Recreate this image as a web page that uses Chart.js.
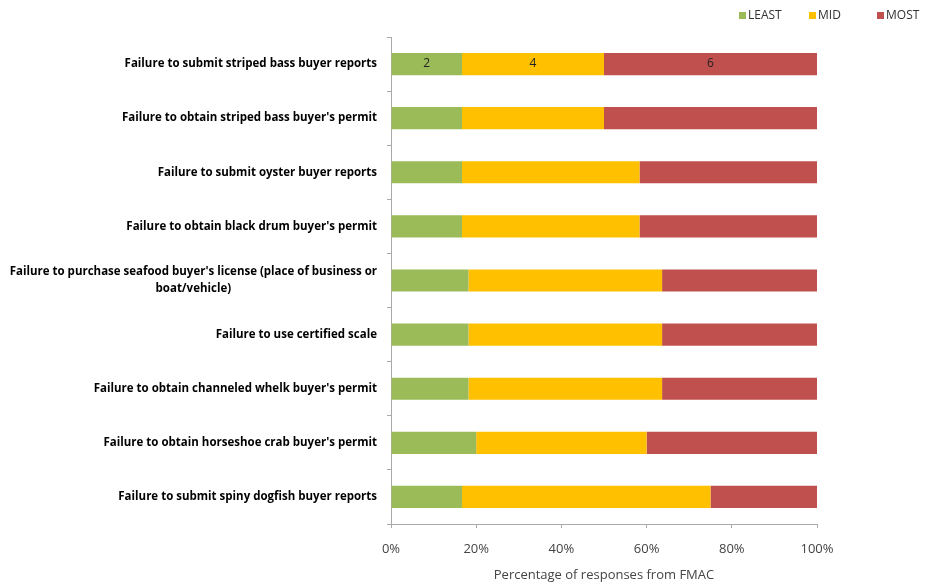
<!DOCTYPE html>
<html><head><meta charset="utf-8">
<script src="https://cdn.jsdelivr.net/npm/chart.js@4"></script>
<style>html,body{margin:0;padding:0;background:#fff}#wrap{width:925px;height:584px;position:relative}</style>
</head><body><div id="wrap"><canvas id="c" width="925" height="584"></canvas></div>
<script>
const categories = [
  ["Failure to submit striped bass buyer reports"],
  ["Failure to obtain striped bass buyer's permit"],
  ["Failure to submit oyster buyer reports"],
  ["Failure to obtain black drum buyer's permit"],
  ["Failure to purchase seafood buyer's license (place of business or", "boat/vehicle)"],
  ["Failure to use certified scale"],
  ["Failure to obtain channeled whelk buyer's permit"],
  ["Failure to obtain horseshoe crab buyer's permit"],
  ["Failure to submit spiny dogfish buyer reports"]
];
const seriesNames = ["LEAST", "MID", "MOST"];
const leastCounts = [2, 2, 2, 2, 2, 2, 2, 2, 2];
const midCounts   = [4, 4, 5, 5, 5, 5, 5, 4, 7];
const mostCounts  = [6, 6, 5, 5, 4, 4, 4, 4, 3];
const labelledRows = [0];
const xTicks = [0, 20, 40, 60, 80, 100];
const xTitle = "Percentage of responses from FMAC";
const colors = ["#9BBB59", "#FFC000", "#C0504D"];

const counts = [leastCounts, midCounts, mostCounts];
const totals = leastCounts.map((v, i) => v + midCounts[i] + mostCounts[i]);
const pct = counts.map(arr => arr.map((v, i) => v / totals[i] * 100));

const legendX = [739, 809, 877];
const legendPlugin = {
  id: 'customLegend',
  afterDraw(chart) {
    const ctx = chart.ctx;
    ctx.save();
    ctx.font = '12px "Open Sans", sans-serif';
    ctx.textBaseline = 'middle';
    ctx.textAlign = 'left';
    chart.data.datasets.forEach((ds, i) => {
      ctx.fillStyle = ds.backgroundColor;
      ctx.fillRect(legendX[i], 12, 7, 7);
      ctx.fillStyle = '#333';
      ctx.fillText(ds.label, legendX[i] + 9, 16);
    });
    ctx.restore();
  }
};
const yLabelPlugin = {
  id: 'yLabels',
  afterDraw(chart) {
    const ctx = chart.ctx, ys = chart.scales.y;
    ctx.save();
    ctx.font = 'bold 11.5px "Open Sans", sans-serif';
    ctx.fillStyle = '#000';
    ctx.textBaseline = 'middle';
    ctx.textAlign = 'center';
    const rightX = 377, lh = 17;
    categories.forEach((lines, i) => {
      const y = ys.getPixelForTick(i);
      const w = Math.max(...lines.map(l => ctx.measureText(l).width));
      const cx = rightX - w / 2;
      const y0 = y - (lines.length - 1) * lh / 2;
      lines.forEach((l, k) => ctx.fillText(l, cx, y0 + k * lh));
    });
    ctx.restore();
  }
};
const valueLabelPlugin = {
  id: 'valueLabels',
  afterDatasetsDraw(chart) {
    const ctx = chart.ctx;
    ctx.save();
    ctx.font = '12px "Open Sans", sans-serif';
    ctx.fillStyle = '#222';
    ctx.textAlign = 'center';
    ctx.textBaseline = 'middle';
    chart.data.datasets.forEach((ds, di) => {
      const meta = chart.getDatasetMeta(di);
      labelledRows.forEach(r => {
        const el = meta.data[r];
        const cx = (el.x + el.base) / 2;
        ctx.fillText(String(counts[di][r]), cx, el.y);
      });
    });
    ctx.restore();
  }
};

new Chart(document.getElementById('c'), {
  type: 'bar',
  data: {
    labels: categories.map(l => l.join(' ')),
    datasets: seriesNames.map((n, i) => ({
      label: n, data: pct[i], backgroundColor: colors[i],
      barPercentage: 0.41, categoryPercentage: 1.0
    }))
  },
  options: {
    indexAxis: 'y',
    responsive: false,
    animation: false,
    devicePixelRatio: 1,
    layout: { padding: { left: 0, right: 108, top: 37, bottom: 0 } },
    plugins: {
      legend: { display: false },
      tooltip: { enabled: false }
    },
    scales: {
      x: {
        stacked: true, min: 0, max: 100,
        afterBuildTicks: s => { s.ticks = xTicks.map(v => ({ value: v })); },
        ticks: { callback: v => v + '%', color: '#444', font: { size: 13, family: '"Open Sans", sans-serif' }, padding: 13 },
        grid: { display: true, drawOnChartArea: false, tickLength: 4, color: '#aaa' },
        border: { color: '#aaa' },
        title: { display: true, text: xTitle, color: '#444', font: { size: 13, family: '"Open Sans", sans-serif' }, padding: { top: 2, bottom: 1 } },
        afterFit: s => { s.height = 60; }
      },
      y: {
        stacked: true,
        ticks: { display: false },
        grid: { display: true, drawOnChartArea: false, offset: true, tickLength: 4, color: '#aaa' },
        border: { color: '#aaa' },
        afterFit: s => { s.width = 391; }
      }
    }
  },
  plugins: [yLabelPlugin, valueLabelPlugin, legendPlugin]
});
</script></body></html>
